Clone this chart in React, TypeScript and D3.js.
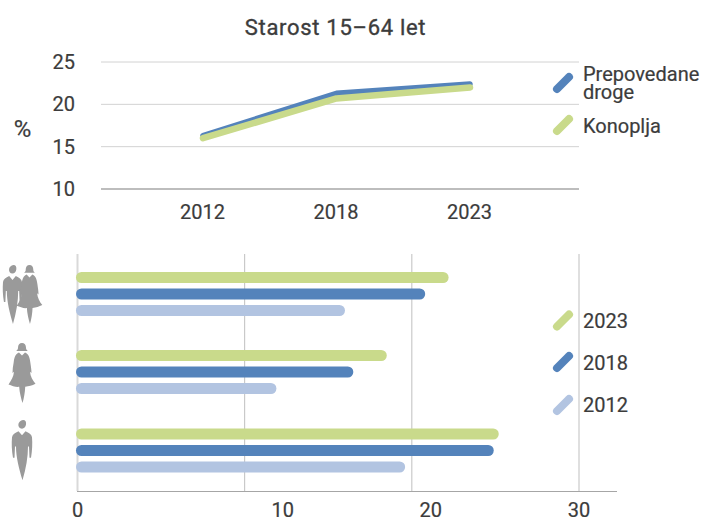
import React from "react";
import * as d3 from "d3";

const lineYears = ["2012", "2018", "2023"];
const drugs = [16.3, 21.3, 22.4];
const cannabis = [16.0, 20.7, 22.0];
const lineTicks = [10, 15, 20, 25];
const groups = ["all", "women", "men"];
const barYears = ["2023", "2018", "2012"];
const bars2023 = [22.2, 18.5, 25.2];
const bars2018 = [20.8, 16.5, 24.9];
const bars2012 = [16.0, 11.9, 19.6];
const barTicks = [0, 10, 20, 30];
const barTickLabelShift = [0, 38, 19, 0];

const GREEN = "#c9da8b";
const BLUE = "#5483bb";
const LIGHT = "#b2c4e1";
const INK = "#3c3c3c";
const FONT = "Roboto, 'Noto Sans', sans-serif";

const WOMAN = "M0,0 C2.5,0 4,1.6 4,4 C4,5 4.6,6 5.8,6.6 L-5.8,6.6 C-4.6,6 -4,5 -4,4 C-4,1.6 -2.5,0 0,0 Z M-3,8 L0,10.5 L3,8 C6,9 7.5,11 8.3,16 C8.8,19 9.5,22 9.5,25 L8,24 C8.5,28 10.5,31 13.5,34 C10,35.5 7,36 3.2,36.5 C3,41 2,46 0.5,50 C-1,46 -2.5,41 -2.8,36.5 C-6,37 -10,35.5 -13.5,34.5 C-10.5,31 -8.5,28 -8,24 L-9.5,25 C-9.5,22 -9,19 -8.3,16 C-7.5,11 -6,9 -3,8 Z";
const MAN = "M1,0 C3.6,0 4.4,2 4,4.5 C3.6,7 2,8.5 0,8.5 C-2.6,8.5 -4,6.5 -3.6,4 C-3.2,2 -1.6,0.4 1,0 Z M-3.5,11 L0,15 L3.5,11 C7,12.5 9.5,14 10,17 C10.5,23 10.3,30 9,37 L7.5,37 L7,26 L6,26 C6,36 4,48 0.5,59 C-3,48 -6,36 -6,26 L-7,26 L-7.5,37 L-9,37 C-10.3,30 -10.5,23 -10,17 C-9.5,14 -7,12.5 -3.5,11 Z";

function Swatch({ x, y, color }: { x: number; y: number; color: string }) {
  return <line x1={x} y1={y + 6} x2={x + 12} y2={y - 6} stroke={color} strokeWidth={8} strokeLinecap="round" />;
}

export default function App() {
  const px = d3.scalePoint<string>().domain(lineYears).range([203, 470]);
  const py = d3.scaleLinear().domain([10, 25]).range([189, 62]);
  const line = d3
    .line<number>()
    .x((_, i) => px(lineYears[i]) as number)
    .y((d) => py(d));
  const bx = d3.scaleLinear().domain([0, 30]).range([77.5, 579]);
  const rows = d3.scaleOrdinal<string, number>().domain(groups).range([277.5, 355.5, 434]);
  const offs = d3.scalePoint<string>().domain(barYears).range([0, 33]);
  const series = [
    { year: "2023", values: bars2023, color: GREEN },
    { year: "2018", values: bars2018, color: BLUE },
    { year: "2012", values: bars2012, color: LIGHT },
  ];
  const text = { fontFamily: FONT, fill: INK, stroke: INK, strokeWidth: 0.2 } as const;
  return (
    <svg width={708} height={522} style={{ position: "absolute", left: 0, top: 0, background: "#fff" }}>
      <text x={335.5} y={35} textAnchor="middle" fontSize={22} letterSpacing={0.7} {...text} strokeWidth={0.35}>Starost 15–64 let</text>
      {lineTicks.map((t) => (
        <g key={t}>
          <line x1={101} x2={579} y1={py(t)} y2={py(t)} stroke={t === 10 ? "#bdbdbd" : "#d2d2d2"} strokeWidth={t === 10 ? 2 : 1} />
          <text x={75} y={py(t) + 7} textAnchor="end" fontSize={20} {...text}>{t}</text>
        </g>
      ))}
      <text x={22.5} y={137} textAnchor="middle" fontSize={24} {...text}>%</text>
      {lineYears.map((y) => (
        <text key={y} x={(px(y) as number) - 0.5} y={219} textAnchor="middle" fontSize={20} {...text}>{y}</text>
      ))}
      <path d={line(drugs) as string} fill="none" stroke={BLUE} strokeWidth={5.5} strokeLinecap="round" strokeLinejoin="round" />
      <path d={line(cannabis) as string} fill="none" stroke={GREEN} strokeWidth={6.5} strokeLinecap="round" strokeLinejoin="round" />
      <Swatch x={557} y={83} color={BLUE} />
      <Swatch x={557} y={125} color={GREEN} />
      <text x={583} y={81} fontSize={20} {...text}>Prepovedane</text>
      <text x={583} y={99} fontSize={20} {...text}>droge</text>
      <text x={583} y={133} fontSize={20} {...text}>Konoplja</text>

      {barTicks.slice(1).map((t) => (
        <line key={t} x1={bx(t)} x2={bx(t)} y1={254} y2={491} stroke="#bfbfbf" strokeWidth={1} />
      ))}
      <line x1={bx(0)} x2={bx(0)} y1={254} y2={491} stroke="#d9d9d9" strokeWidth={2} />
      <line x1={77} x2={617} y1={491.5} y2={491.5} stroke="#a6a6a6" strokeWidth={1} />
      {series.map((s) =>
        s.values.map((v, i) => (
          <rect
            key={s.year + i}
            x={bx(0) - 1.5}
            y={rows(groups[i]) + (offs(s.year) as number) - 5.5}
            width={bx(v) - bx(0) + 1.5}
            height={11}
            rx={5.5}
            fill={s.color}
          />
        ))
      )}
      {barTicks.map((t, i) => (
        <text key={t} x={bx(t) + barTickLabelShift[i]} y={517} textAnchor="middle" fontSize={20} {...text}>{t}</text>
      ))}
      <g fill="#9a9a9a">
        <path d={MAN} transform="translate(12.5,265) scale(0.95,1)" />
        <path d={WOMAN} transform="translate(29.5,265) scale(0.95,1.18)" />
        <path d={WOMAN} transform="translate(22,343) scale(1,1.2)" />
        <path d={MAN} transform="translate(22,420) scale(1,1.02)" />
      </g>
      <Swatch x={557} y={320.5} color={GREEN} />
      <Swatch x={557} y={362} color={BLUE} />
      <Swatch x={557} y={405} color={LIGHT} />
      {barYears.map((y, i) => (
        <text key={y} x={583} y={[328, 370, 412][i]} fontSize={20} {...text}>{y}</text>
      ))}
    </svg>
  );
}
